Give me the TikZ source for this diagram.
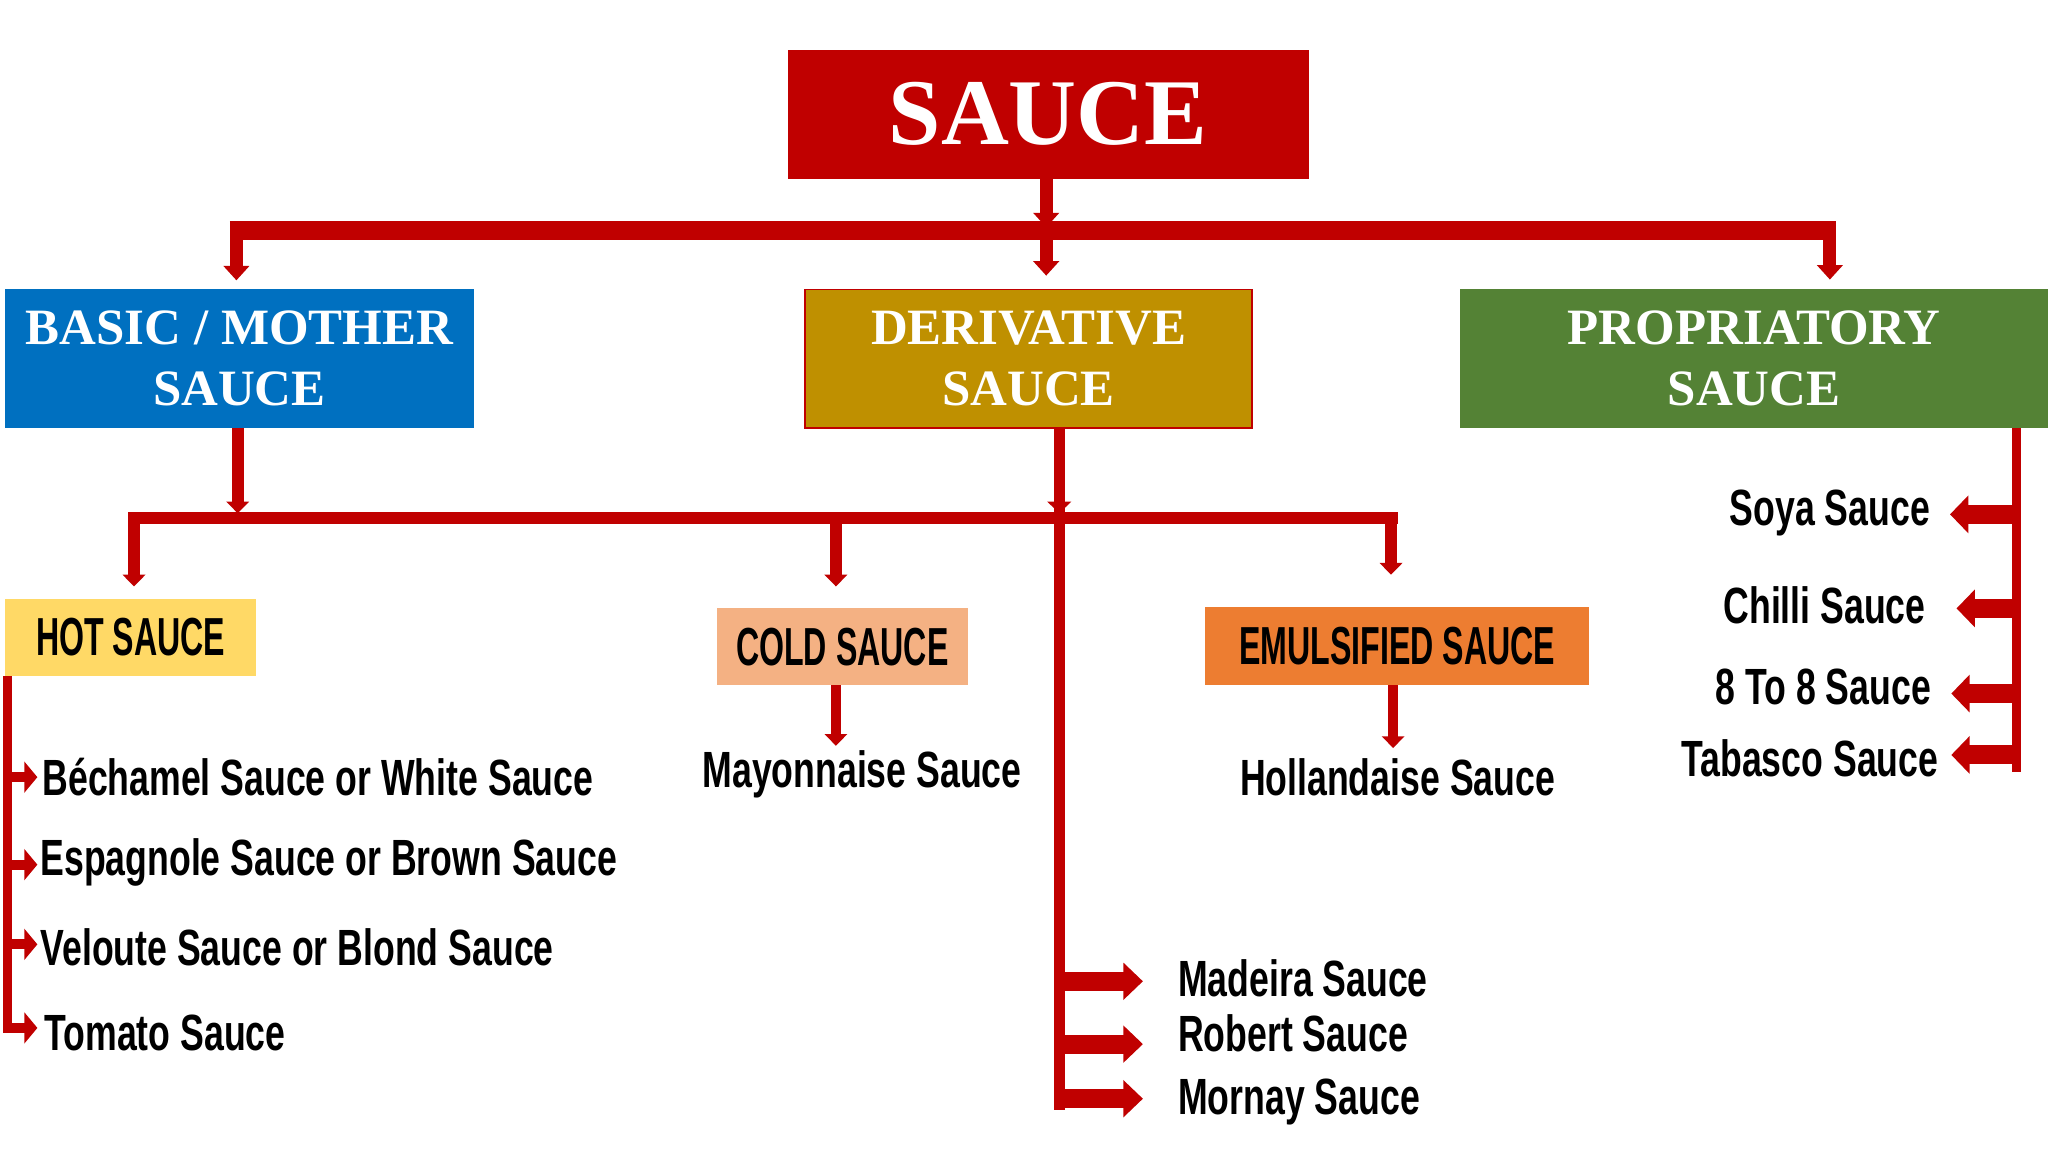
\documentclass[tikz,border=0pt]{standalone}
\usepackage{fontspec}
\setmainfont{Liberation Serif}
\newfontfamily\agency[FakeStretch=0.70]{Liberation Sans Bold}
\newfontfamily\agencycaps[FakeStretch=0.60]{Liberation Sans Bold}
\usetikzlibrary{calc}
\definecolor{sred}{HTML}{C00000}
\definecolor{cblue}{HTML}{0070C0}
\definecolor{cgold}{HTML}{BF9000}
\definecolor{cgreen}{HTML}{548235}
\definecolor{cyellow}{HTML}{FFD966}
\definecolor{cpeach}{HTML}{F4B183}
\definecolor{corange}{HTML}{ED7D31}
% #1 start, #2 tip, #3 angle, #4 stem width, #5 head width, #6 head length
\newcommand\redarrow[6]{%
  \draw[sred, line width=#4pt, shorten >=#6pt-0.5pt] (#1) -- (#2);
  \pic[rotate=#3] at (#2) {ahead={#5}{#6}};}
\begin{document}
\begin{tikzpicture}[x=1pt,y=1pt,
  box/.style={rectangle, inner sep=0pt, outer sep=0pt},
  title/.style={box, text=white, align=center, font=\fontsize{39}{47}\selectfont\bfseries},
  cat/.style={box, text=black, font=\agencycaps\fontsize{41}{41}\selectfont},
  item/.style={inner sep=0pt, outer sep=0pt, text=black, font=\agency\fontsize{39}{39}\selectfont},
  redline/.style={draw=sred, line width=#1},
  pics/ahead/.style n args={2}{code={\fill[sred] (0,0) -- (-#2,#1/2) -- (-#2,-#1/2) -- cycle;}}
]
\useasboundingbox (0,0) rectangle (1568,-882);
\fill[white] (0,0) rectangle (1568,-882);

% ---------- boxes ----------
\node[box, fill=sred, minimum width=399pt, minimum height=99pt, text=white,
      font=\fontsize{72}{72}\selectfont\bfseries] (sauce) at (802.5,-87.5) {SAUCE};
\node[title, fill=cblue, minimum width=358.6pt, minimum height=107pt] (basic) at (183.3,-274.5) {BASIC / MOTHER\\SAUCE};
\node[title, fill=cgold, draw=sred, line width=1.2pt, minimum width=342pt, minimum height=106pt] (deriv) at (787.5,-274.5) {DERIVATIVE\\SAUCE};
\node[title, fill=cgreen, minimum width=450pt, minimum height=107pt] (prop) at (1343,-274.5) {PROPRIATORY\\SAUCE};

\node[cat, fill=cyellow, minimum width=192pt, minimum height=59pt] (hot) at (100,-488) {HOT SAUCE};
\node[cat, fill=cpeach, minimum width=191.7pt, minimum height=59pt] (cold) at (644.9,-495.1) {COLD SAUCE};
\node[cat, fill=corange, minimum width=294pt, minimum height=59.6pt] (emul) at (1069.7,-494.8) {EMULSIFIED SAUCE};

% ---------- items ----------
\node[item, anchor=base west] (bech) at (32.5,-609) {Béchamel Sauce or White Sauce};
\node[item, anchor=base west] (esp) at (31,-670) {Espagnole Sauce or Brown Sauce};
\node[item, anchor=base west] (vel) at (31,-739) {Veloute Sauce or Blond Sauce};
\node[item, anchor=base west] (tom) at (34,-804.5) {Tomato Sauce};
\node[item, anchor=base] (mayo) at (660,-602.6) {Mayonnaise Sauce};
\node[item, anchor=base] (holl) at (1070,-609) {Hollandaise Sauce};
\node[item, anchor=base west] (made) at (902,-762.6) {Madeira Sauce};
\node[item, anchor=base west] (rob) at (902,-805.3) {Robert Sauce};
\node[item, anchor=base west] (morn) at (902,-853) {Mornay Sauce};
\node[item, anchor=base east] (soya) at (1477.7,-402.3) {Soya Sauce};
\node[item, anchor=base east] (chil) at (1474.3,-477) {Chilli Sauce};
\node[item, anchor=base east] (eight) at (1478.3,-539.5) {8 To 8 Sauce};
\node[item, anchor=base east] (taba) at (1484,-594.3) {Tabasco Sauce};

% ---------- level 1 connectors ----------
\coordinate (b1l) at (176,-176.5);
\coordinate (b1r) at (1406,-176.5);
\draw[redline=14.5pt] (b1l) -- (b1r);
\coordinate (t0) at (801,-174);
\redarrow{sauce.south -| t0}{t0}{-90}{10}{20}{11}
\coordinate (t1) at (181,-214.6);
\redarrow{t1 |- b1l}{t1}{-90}{10}{20}{11}
\coordinate (t2) at (801,-211);
\redarrow{t2 |- b1l}{t2}{-90}{10}{20}{11}
\coordinate (t3) at (1401,-214);
\redarrow{t3 |- b1l}{t3}{-90}{10}{20}{11}

% ---------- level 2 connectors ----------
\coordinate (b2l) at (98,-396.8);
\coordinate (b2r) at (1070,-396.8);
\draw[redline=9.5pt] (b2l) -- (b2r);
\coordinate (u1) at (182,-393);
\redarrow{basic.south -| u1}{u1}{-90}{9}{17.6}{9}
\coordinate (dend) at (811,-850);
\draw[redline=8.5pt] (deriv.south -| dend) -- (dend);
\coordinate (u2) at (811,-393);
\pic[rotate=-90] at (u2) {ahead={18.5}{9}};
\coordinate (d1) at (102.6,-449);
\redarrow{d1 |- b2l}{d1}{-90}{9}{17.6}{9}
\coordinate (d2) at (640,-449);
\redarrow{d2 |- b2l}{d2}{-90}{9}{17.6}{9}
\coordinate (d3) at (1065,-440);
\redarrow{d3 |- b2l}{d3}{-90}{9}{17.6}{9}

% ---------- level 3 connectors ----------
\coordinate (m1) at (640,-571);
\redarrow{cold.south -| m1}{m1}{-90}{7.5}{17.5}{9}
\coordinate (h1) at (1066.6,-572.7);
\redarrow{emul.south -| h1}{h1}{-90}{7.5}{17.5}{9}

% hot list
\coordinate (hl) at (5.7,-791);
\draw[redline=7pt] (hot.south -| hl) -- (hl);
\coordinate (a1) at (28.6,-595);
\coordinate (a2) at (28.6,-662);
\coordinate (a3) at (28.6,-723);
\coordinate (a4) at (28.6,-787);
\redarrow{a1 -| hl}{a1}{0}{7.7}{24}{10}
\redarrow{a2 -| hl}{a2}{0}{7.7}{24}{10}
\redarrow{a3 -| hl}{a3}{0}{7.7}{24}{10}
\redarrow{a4 -| hl}{a4}{0}{7.7}{24}{10}

% derivative list
\coordinate (r1) at (875,-751.3);
\coordinate (r2) at (875,-799.4);
\coordinate (r3) at (875,-841.2);
\redarrow{r1 -| dend}{r1}{0}{14.6}{28.7}{15}
\redarrow{r2 -| dend}{r2}{0}{14.6}{28.7}{15}
\redarrow{r3 -| dend}{r3}{0}{14.6}{28.7}{15}

% propriatory list
\coordinate (pl) at (1544,-591);
\draw[redline=7pt] (prop.south -| pl) -- (pl);
\coordinate (p1) at (1493,-393.8);
\coordinate (p2) at (1498,-465.8);
\coordinate (p3) at (1494,-531);
\coordinate (p4) at (1494,-578);
\redarrow{p1 -| pl}{p1}{180}{14.5}{29}{14}
\redarrow{p2 -| pl}{p2}{180}{14.5}{29}{14}
\redarrow{p3 -| pl}{p3}{180}{14.5}{29}{14}
\redarrow{p4 -| pl}{p4}{180}{14.5}{29}{14}
\end{tikzpicture}
\end{document}
